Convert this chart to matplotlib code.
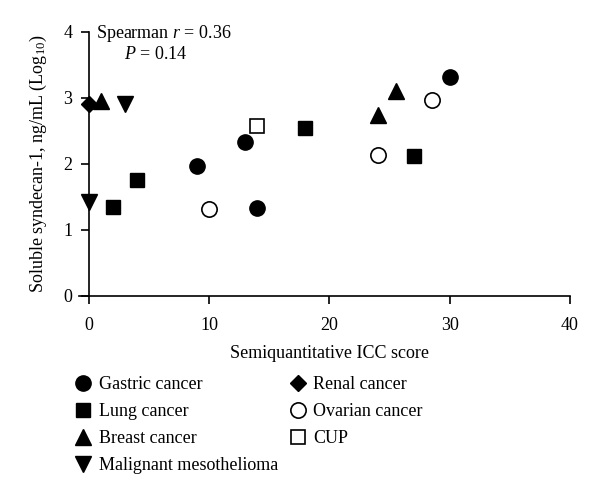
import matplotlib.pyplot as plt

plt.rcParams['font.family'] = ['Liberation Serif', 'DejaVu Serif']
plt.rcParams['mathtext.fontset'] = 'custom'
plt.rcParams['mathtext.rm'] = 'Liberation Serif'
plt.rcParams['mathtext.it'] = 'Liberation Serif:italic'

# ICC score (x) and log10 soluble syndecan-1 (y) per group
gastric_x = [9, 13, 14, 30]
gastric_y = [1.97, 2.33, 1.33, 3.31]
lung_x = [2, 4, 18, 27]
lung_y = [1.35, 1.76, 2.54, 2.12]
breast_x = [1, 24, 25.5]
breast_y = [2.95, 2.74, 3.10]
meso_x = [0, 3]
meso_y = [1.42, 2.90]
renal_x = [0]
renal_y = [2.90]
ovarian_x = [10, 24, 28.5]
ovarian_y = [1.32, 2.13, 2.97]
cup_x = [14]
cup_y = [2.57]

fig = plt.figure(figsize=(6, 4.98), dpi=100)
ax = fig.add_axes([0.148, 0.406, 0.802, 0.53])

kw = dict(color='black', linestyle='none', clip_on=False, zorder=3)
ax.plot(gastric_x, gastric_y, marker='o', markersize=11, label='Gastric cancer', **kw)
ax.plot(lung_x, lung_y, marker='s', markersize=10.5, label='Lung cancer', **kw)
ax.plot(breast_x, breast_y, marker='^', markersize=11, label='Breast cancer', **kw)
ax.plot(meso_x, meso_y, marker='v', markersize=11, label='Malignant mesothelioma', **kw)
ax.plot(renal_x, renal_y, marker='D', markersize=8.5, label='Renal cancer', **kw)
ax.plot(ovarian_x, ovarian_y, marker='o', markersize=11, markerfacecolor='white',
        markeredgewidth=1.2, label='Ovarian cancer', **kw)
ax.plot(cup_x, cup_y, marker='s', markersize=10.5, markerfacecolor='white',
        markeredgewidth=1.2, label='CUP', **kw)

ax.set_xlim(0, 40)
ax.set_ylim(0, 4)
ax.set_xticks([0, 10, 20, 30, 40])
ax.set_yticks([0, 1, 2, 3, 4])
ax.spines['top'].set_visible(False)
ax.spines['right'].set_visible(False)
ax.spines['bottom'].set_bounds(-0.8, 40)
ax.tick_params(direction='out', length=6, width=1.2, labelsize=13)
ax.tick_params(axis='x', pad=9)
ax.tick_params(axis='y', pad=6)
for s in ['left', 'bottom']:
    ax.spines[s].set_linewidth(1.2)

ax.set_xlabel('Semiquantitative ICC score', fontsize=13, labelpad=8)
ax.set_ylabel(r'Soluble syndecan-1, ng/mL (Log$_{10}$)', fontsize=13, labelpad=10)

ax.text(0.6, 3.98, r'Spearman $r$ = 0.36', fontsize=13, va='center')
ax.text(2.9, 3.66, r'$P$ = 0.14', fontsize=13, va='center')

handles, labels = ax.get_legend_handles_labels()
fig.legend(handles, labels, ncol=2, loc='upper left', bbox_to_anchor=(0.097, 0.277),
           frameon=False, fontsize=13, handletextpad=0.35, columnspacing=0.6,
           labelspacing=0.55, handlelength=1.0, numpoints=1)

fig.savefig('out.png', dpi=100)
